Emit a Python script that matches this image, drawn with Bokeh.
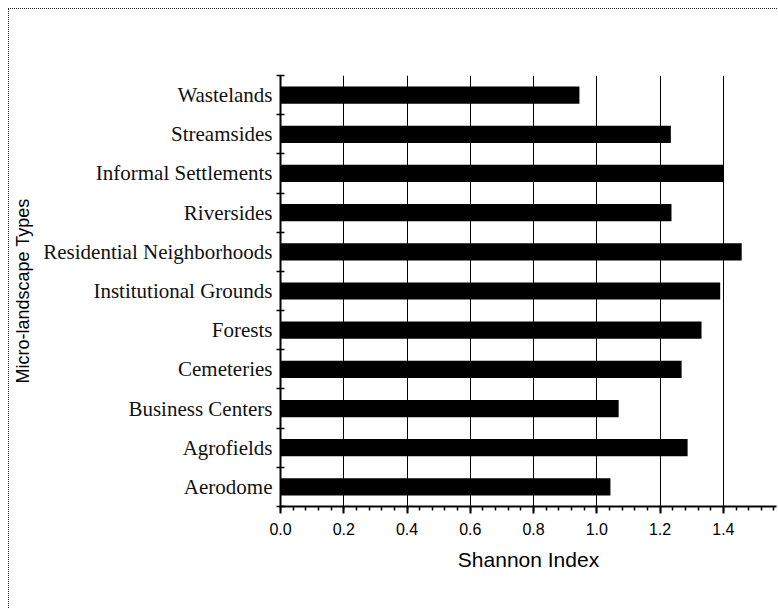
from bokeh.plotting import figure
from bokeh.models import Range1d, FixedTicker, SingleIntervalTicker, NumeralTickFormatter, ColumnDataSource
from bokeh.embed import file_html
from bokeh.resources import INLINE

categories = ["Aerodome", "Agrofields", "Business Centers", "Cemeteries", "Forests",
              "Institutional Grounds", "Residential Neighborhoods", "Riversides",
              "Informal Settlements", "Streamsides", "Wastelands"]
shannon = [1.043, 1.287, 1.069, 1.268, 1.331, 1.390, 1.458, 1.236, 1.402, 1.234, 0.945]
x_title = "Shannon Index"
y_title = "Micro-landscape Types"

idx = list(range(len(categories)))
src = ColumnDataSource(dict(y=idx, v=shannon, name=categories))

p = figure(width=769, height=600, output_backend="svg", toolbar_location=None,
           x_range=Range1d(0, 1.568), y_range=Range1d(-0.5, len(categories) - 0.5),
           min_border_left=271, min_border_right=2, min_border_top=66, min_border_bottom=103)
p.styles = {"border-top": "1px dotted #222", "border-left": "1px dotted #222",
            "margin-left": "8px", "margin-top": "8px"}
p.outline_line_color = None
p.background_fill_color = "white"

p.hbar(y="y", right="v", left=0, height=0.44, source=src, fill_color="black", line_color=None)

# x axis
xa = p.xaxis[0]
xa.ticker = SingleIntervalTicker(interval=0.2, num_minor_ticks=5)
xa.formatter = NumeralTickFormatter(format="0.0")
xa.axis_line_width = 2
xa.axis_line_color = "black"
xa.major_tick_out = 7
xa.major_tick_in = 0
xa.major_tick_line_width = 2
xa.minor_tick_out = 4
xa.minor_tick_in = 0
xa.minor_tick_line_width = 1.5
xa.major_label_text_font = "Liberation Sans"
xa.major_label_text_font_size = "16px"
xa.major_label_text_color = "black"
xa.major_label_standoff = 9
xa.axis_label = x_title
xa.axis_label_text_font = "Liberation Sans"
xa.axis_label_text_font_size = "21px"
xa.axis_label_text_font_style = "normal"
xa.axis_label_text_color = "black"
xa.axis_label_standoff = 10

# y axis
ya = p.yaxis[0]
ya.ticker = FixedTicker(ticks=idx, minor_ticks=[i - 0.5 for i in range(len(categories) + 1)])
ya.major_label_overrides = {i: c for i, c in zip(idx, categories)}
ya.axis_line_width = 2
ya.axis_line_color = "black"
ya.major_tick_out = 0
ya.major_tick_in = 0
ya.minor_tick_out = 4
ya.minor_tick_in = 4
ya.minor_tick_line_width = 1.5
ya.major_label_text_font = "Liberation Serif"
ya.major_label_text_font_size = "21px"
ya.major_label_text_color = "#111"
ya.major_label_standoff = 4
ya.axis_label = y_title
ya.axis_label_text_font = "Liberation Sans"
ya.axis_label_text_font_size = "18px"
ya.axis_label_text_font_style = "normal"
ya.axis_label_text_color = "black"
ya.axis_label_standoff = 7

p.ygrid.grid_line_color = None
p.xgrid.grid_line_color = "black"
p.xgrid.grid_line_width = 1

open("out.html", "w").write(file_html(p, INLINE))
